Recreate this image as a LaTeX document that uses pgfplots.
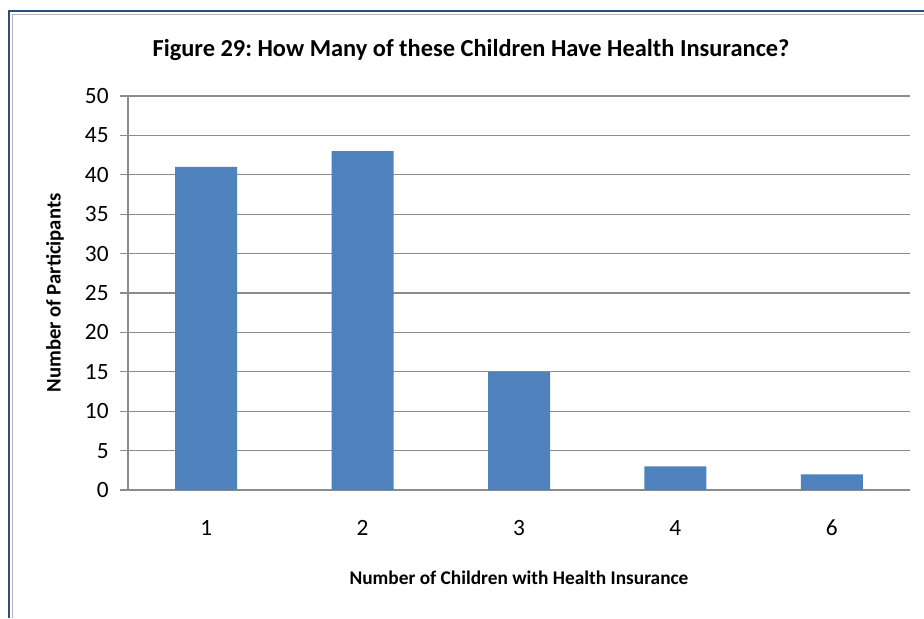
\documentclass[border=0pt]{standalone}
\usepackage{pgfplots}
\pgfplotsset{compat=1.18}
\usepackage{fontspec}
\setmainfont{Carlito}
\frenchspacing
\definecolor{barblue}{HTML}{4F81BD}
\definecolor{framecol}{HTML}{2C4C7C}
\definecolor{gridgray}{HTML}{8C8C8C}
\begin{document}
\begin{tikzpicture}
\path[use as bounding box] (0,0) rectangle (693pt,-463.5pt);
\fill[white] (0,0) rectangle (693pt,-463.5pt);
\draw[framecol, line width=2.2pt] (6.75pt,-463.5pt) -- (6.75pt,-8.25pt) -- (693pt,-8.25pt);
\draw[gray!60, line width=0.8pt] (9.3pt,-463.5pt) -- (9.3pt,-10.8pt) -- (693pt,-10.8pt);
\begin{axis}[
  at={(96pt,-367.5pt)}, anchor=south west,
  scale only axis, width=586.5pt, height=295.5pt,
  xmin=0.5, xmax=5.5, ymin=0, ymax=50,
  enlargelimits=false,
  axis line style={draw=none},
  ytick={0,5,...,50}, ytick pos=left,
  xtick={1,2,3,4,5}, xticklabels={1,2,3,4,6},
  x tick style={draw=none},
  y tick style={gridgray, line width=0.9pt},
  tick align=outside, major tick length=6pt,
  ymajorgrids, grid style={gridgray, line width=0.9pt},
  extra x ticks={0.5}, extra x tick labels={},
  extra x tick style={grid=major, major tick length=0pt},
  /pgf/number format/assume math mode=true,
  tick label style={font=\fontsize{17.5}{20}\selectfont},
  yticklabel style={xshift=-5pt},
  xticklabel style={yshift=-13pt},
  ybar, bar width=46.5pt,
]
\addplot[fill=barblue, draw=none] coordinates {(1,41) (2,43) (3,15) (4,3) (5,2)};
\end{axis}
\fill[white] (683pt,-68pt) rectangle (693pt,-372pt);
\node[font=\bfseries\fontsize{18.3}{21}\selectfont] at (353.25pt,-37.5pt) {Figure 29: How Many of these Children Have Health Insurance?};
\node[font=\bfseries\fontsize{14.5}{17}\selectfont] at (389.25pt,-433.5pt) {Number of Children with Health Insurance};
\node[font=\bfseries\fontsize{15.5}{18}\selectfont, rotate=90] at (41.25pt,-219.75pt) {Number of Participants};
\end{tikzpicture}
\end{document}
